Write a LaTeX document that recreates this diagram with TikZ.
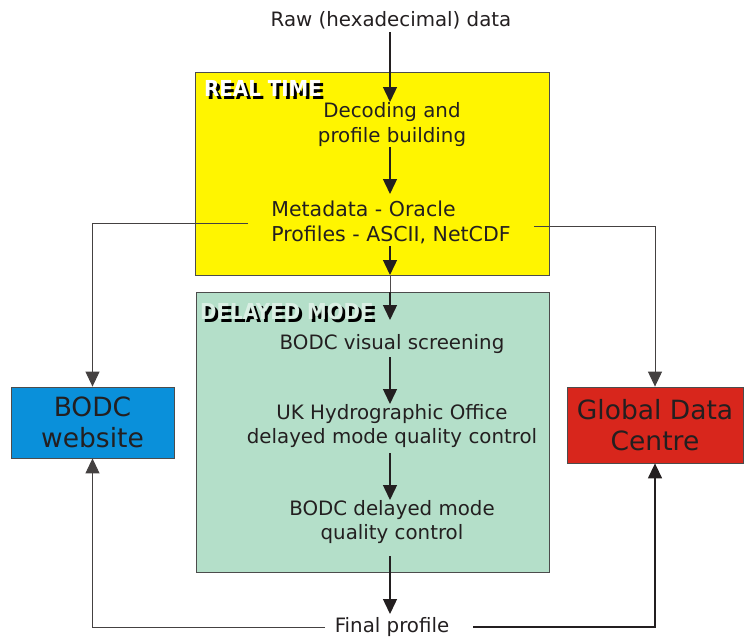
\documentclass[tikz,border=0pt]{standalone}
\usepackage{fontspec}
\setmainfont{DejaVu Sans}
\newfontfamily\condbold{DejaVu Sans Condensed Bold}
\usetikzlibrary{arrows.meta}
\definecolor{rtyellow}{HTML}{FFF500}
\definecolor{dmgreen}{HTML}{B4DFC9}
\definecolor{webblue}{HTML}{0A90DA}
\definecolor{gdcred}{HTML}{D8261C}
\definecolor{txt}{HTML}{231F20}
\tikzset{
  lab/.style={font=\fontsize{19.8}{24.5}\selectfont, text=txt, align=center, inner sep=1pt},
  big/.style={font=\fontsize{26.5}{31}\selectfont, text=txt, align=center},
  arr/.style={draw=txt, line width=1.4pt, -{Triangle[width=14pt,length=15pt]}},
  thin/.style={draw=txt!80, line width=0.9pt},
  thinarr/.style={draw=txt!85, line width=1pt, -{Triangle[width=14pt,length=15pt]}},
  panel/.style={draw=black!70, line width=0.8pt},
  emb/.style={font=\condbold\fontsize{22}{22}\selectfont, anchor=north west, inner sep=0pt}
}
\begin{document}
\begin{tikzpicture}[x=1pt,y=-1pt]
\useasboundingbox (0,0) rectangle (750,637);
% panels
\fill[rtyellow] (195,72) rectangle (549,275);
\draw[panel] (195,72) rectangle (549,275);
\fill[dmgreen] (196,292) rectangle (549,572);
\draw[panel] (196,292) rectangle (549,572);
% embossed labels
\node[emb, text=black] (rtshadow) at (207,83) {REAL TIME};
\node[emb, text=white] (rt) at (204,80) {REAL TIME};
\node[emb, text=black] (dmshadow) at (203,306) {DELAYED MODE};
\node[emb, text=dmgreen!50!white] (dm) at (200,303) {DELAYED MODE};
% text nodes
\node[lab] (raw) at (391,20) {Raw (hexadecimal) data};
\node[lab] (dec) at (392,124.5) {Decoding and\\profile building};
\node[lab, align=left, font=\fontsize{20.5}{25}\selectfont] (meta) at (391,222.5) {Metadata - Oracle\\Profiles - ASCII, NetCDF};
\node[lab] (vis) at (392,344) {BODC visual screening};
\node[lab] (ukho) at (392,426) {UK Hydrographic Office\\delayed mode quality control};
\node[lab] (bdm) at (392,522) {BODC delayed mode\\quality control};
\node[lab] (fin) at (392,627) {Final profile};
% side boxes
\node[big, fill=webblue, draw=black!70, line width=0.8pt, minimum width=163pt, minimum height=71pt] (web) at (92.5,422.5) {BODC\\website};
\node[big, fill=gdcred, draw=black!70, line width=0.8pt, minimum width=176pt, minimum height=76pt] (gdc) at (655,425) {Global Data\\Centre};
% coordinates
\coordinate (mL) at (248,223);
\coordinate (mR) at (534,226);
\coordinate (fL) at (325,627);
\coordinate (fR) at (473,627);
% arrows
\draw[arr] (390,32) -- (390,102);
\draw[arr] (390,147) -- (390,194);
\draw[arr] (390,246) -- (390,275);
\draw[thin] (390,275) -- (390,292);
\draw[arr] (390,292) -- (390,320);
\draw[arr] (390,357) -- (390,404);
\draw[arr] (390,453) -- (390,500);
\draw[arr] (390,556) -- (390,614);
\draw[thinarr] (mL) -| (web.north);
\draw[thinarr] (mR) -| (gdc.north);
\draw[thinarr] (fL) -| (web.south);
\draw[arr] (fR) -| (gdc.south);
\end{tikzpicture}
\end{document}
